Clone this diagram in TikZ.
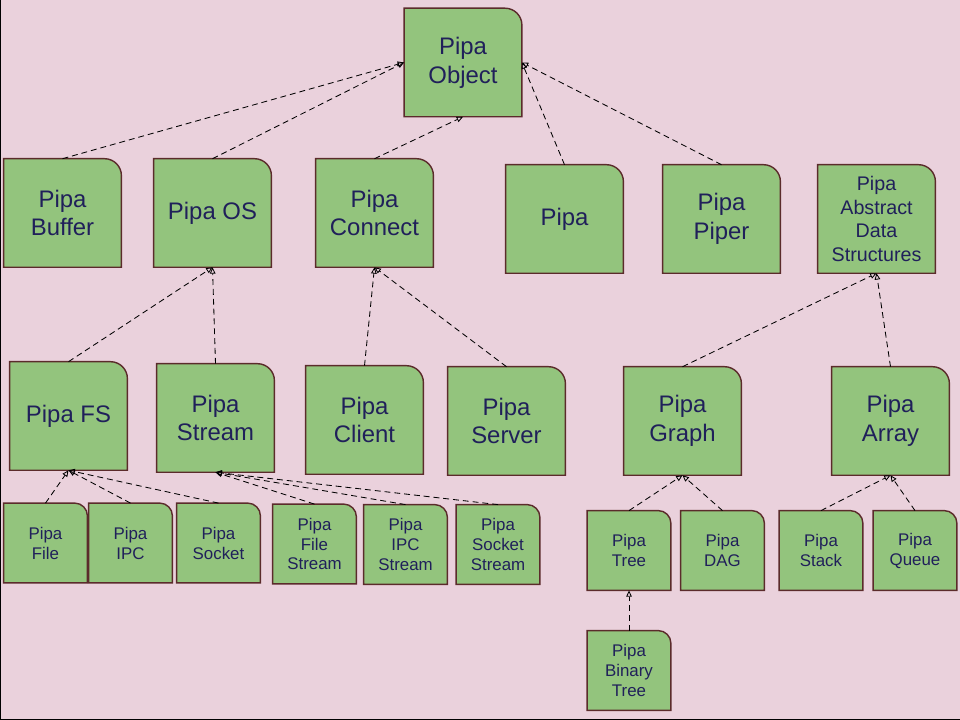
\documentclass[tikz,border=0pt]{standalone}
\usepackage{fontspec}
\setmainfont{Liberation Sans}
\usetikzlibrary{arrows.meta,backgrounds}
\definecolor{paper}{HTML}{EAD1DC}
\definecolor{leaf}{HTML}{93C47D}
\definecolor{rim}{HTML}{5B2B2B}
\definecolor{ink}{HTML}{20205A}

\begin{document}
\begin{tikzpicture}[
  x=0.025cm,y=-0.025cm,
  big/.style={inner sep=0pt,minimum width=2.93cm,minimum height=2.7cm,
    align=center,text=ink,font=\fontsize{17}{20.5}\selectfont},
  small/.style={inner sep=0pt,minimum width=2.08cm,minimum height=1.98cm,
    align=center,text=ink,font=\fontsize{12}{14.2}\selectfont},
  shell/.style={draw=rim,fill=leaf,line width=1pt},
  link/.style={draw=black,line width=.6pt,dash pattern=on 4.2pt off 2.8pt,
    -{Triangle[open,length=4.5pt,width=4pt]}}
]
  \useasboundingbox (0,0) rectangle (960,720);

  % class boxes
  \foreach \name/\x/\y/\txt in
    {obj/463/62.5/{Pipa\\Object},
     buffer/62.5/213/{Pipa\\Buffer},os/212.5/213/{Pipa OS},
     connect/374.5/213/{Pipa\\Connect},pipa/564.5/219/{Pipa},
     piper/721.5/219/{Pipa\\Piper},
     fs/68.5/416/{Pipa FS},stream/215.5/418/{Pipa\\Stream},
     client/364.5/420/{Pipa\\Client},server/506.5/421/{Pipa\\Server},
     graph/682.5/421/{Pipa\\Graph},array/890.5/421/{Pipa\\Array}}
  {
    \node[big] (\name) at (\x,\y) {\txt};
  }
  \node[big,font=\fontsize{14}{17}\selectfont] (ads) at (876.5,219)
    {Pipa\\Abstract\\Data\\Structures};
  \foreach \name/\x/\y/\txt in
    {file/45.5/543/{Pipa\\File},ipc/130.5/543/{Pipa\\IPC},
     socket/218.5/543/{Pipa\\Socket},
     filestream/314.5/544/{Pipa\\File\\Stream},
     ipcstream/405.5/544.5/{Pipa\\IPC\\Stream},
     socketstream/498/544.5/{Pipa\\Socket\\Stream},
     tree/629/550.5/{Pipa\\Tree},dag/722.5/550.5/{Pipa\\DAG},
     stack/821/550.5/{Pipa\\Stack},queue/915/550.5/{Pipa\\Queue},
     binarytree/629/670.5/{Pipa\\Binary\\Tree}}
  {
    \node[small] (\name) at (\x,\y) {\txt};
  }

  % paper and box outlines behind the text
  \begin{scope}[on background layer]
    \fill[paper] (0,0) rectangle (960,720);
    \draw[line width=1.5pt] (0,0) -- (0,720) -- (960,720);
    \foreach \n in {obj,buffer,os,connect,pipa,piper,ads,
                    fs,stream,client,server,graph,array}
    {
      \draw[shell] (\n.south west) -- (\n.north west)
        -- ([xshift=-12pt]\n.north east) arc[start angle=90,end angle=0,radius=12pt]
        -- (\n.south east) -- cycle;
    }
    \foreach \n in {file,ipc,socket,filestream,ipcstream,socketstream,
                    tree,dag,stack,queue,binarytree}
    {
      \draw[shell] (\n.south west) -- (\n.north west)
        -- ([xshift=-9pt]\n.north east) arc[start angle=90,end angle=0,radius=9pt]
        -- (\n.south east) -- cycle;
    }
  \end{scope}

  % inheritance links
  \foreach \child/\parent in
    {buffer/obj.west,os/obj.west,connect/obj.south,pipa/obj.east,
     piper/obj.east,fs/os.south,stream/os.south,client/connect.south,
     server/connect.south,graph/ads.south,array/ads.south,
     file/fs.south,ipc/fs.south,socket/fs.south,
     filestream/stream.south,ipcstream/stream.south,
     socketstream/stream.south,tree/graph.south,dag/graph.south,
     stack/array.south,queue/array.south,binarytree/tree.south}
  {
    \draw[link] (\child.north) -- (\parent);
  }
\end{tikzpicture}
\end{document}
